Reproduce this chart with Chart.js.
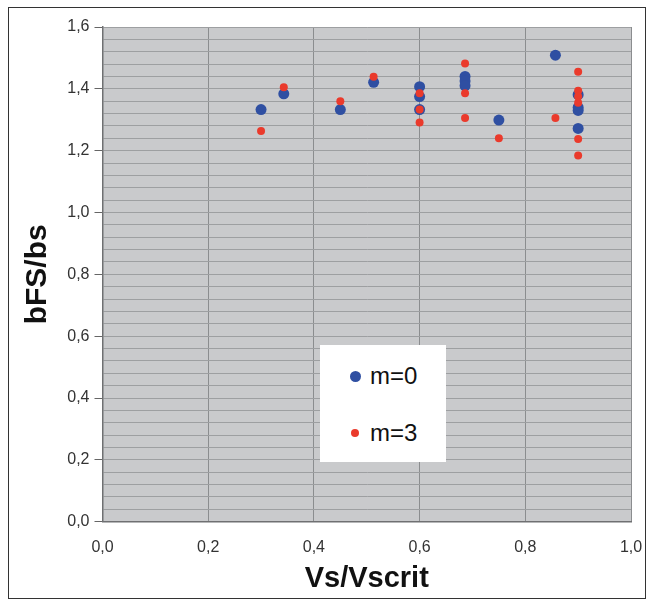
<!DOCTYPE html>
<html>
<head>
<meta charset="utf-8">
<script src="https://cdn.jsdelivr.net/npm/chart.js@4.4.1/dist/chart.umd.min.js"></script>
<style>
  html, body { margin: 0; padding: 0; background: #fff; }
  #wrap { position: relative; width: 653px; height: 606px; }
  #frame { position: absolute; left: 8px; top: 7px; width: 636px; height: 590px; border: 1px solid #333; pointer-events: none; }
  #legend { position: absolute; left: 320px; top: 345px; width: 126px; height: 117px; background: #fff;
            font-family: "Liberation Sans", Arial, sans-serif; font-size: 24px; color: #111; }
  .item { position: absolute; left: 0; height: 30px; line-height: 30px; }
  .dot { position: absolute; border-radius: 50%; }
  .lbl { position: absolute; left: 50px; top: 0; white-space: nowrap; }
</style>
</head>
<body>
<div id="wrap">
  <canvas id="chart" width="653" height="606"></canvas>
  <div id="frame"></div>
  <div id="legend"></div>
</div>
<script>
// valeurs
const seriesNames = ['m=0', 'm=3'];
const seriesColors = ['#2f4fa2', '#ea3a2c'];
const seriesRadius = [5.5, 4];

const xM0 = [0.30, 0.343, 0.45, 0.513, 0.60, 0.60, 0.60, 0.686, 0.686, 0.686, 0.75, 0.857, 0.90, 0.90, 0.90, 0.90];
const yM0 = [1.333, 1.384, 1.333, 1.421, 1.407, 1.375, 1.333, 1.44, 1.425, 1.41, 1.299, 1.509, 1.381, 1.340, 1.330, 1.272];

const xM3 = [0.30, 0.343, 0.45, 0.513, 0.60, 0.60, 0.60, 0.686, 0.686, 0.686, 0.75, 0.857, 0.90, 0.90, 0.90, 0.90, 0.90, 0.90];
const yM3 = [1.264, 1.405, 1.360, 1.439, 1.386, 1.333, 1.291, 1.482, 1.386, 1.306, 1.240, 1.306, 1.455, 1.394, 1.375, 1.355, 1.238, 1.184];

const xTitle = 'Vs/Vscrit';
const yTitle = 'bFS/bs';

function toPoints(xs, ys) {
    return xs.map((x, i) => ({ x: x, y: ys[i] }));
}

function isMajor(v) {
    return Math.abs(v / 0.2 - Math.round(v / 0.2)) < 1e-6;
}

function fmt(v) {
    return v.toFixed(1).replace('.', ',');
}

// fond gris de la zone de tracé
const plotBg = {
    id: 'plotBg',
    beforeDraw(chart) {
        const a = chart.chartArea;
        const ctx = chart.ctx;
        ctx.save();
        ctx.fillStyle = '#c9cacc';
        ctx.fillRect(a.left, a.top, a.right - a.left, a.bottom - a.top);
        ctx.restore();
    }
};

const tickFont = { family: '"Liberation Sans", Arial, sans-serif', size: 16 };

new Chart(document.getElementById('chart'), {
    type: 'scatter',
    data: {
        datasets: [
            {
                label: seriesNames[0],
                data: toPoints(xM0, yM0),
                backgroundColor: seriesColors[0],
                borderWidth: 0,
                pointRadius: seriesRadius[0],
                order: 1
            },
            {
                label: seriesNames[1],
                data: toPoints(xM3, yM3),
                backgroundColor: seriesColors[1],
                borderWidth: 0,
                pointRadius: seriesRadius[1],
                order: 0
            }
        ]
    },
    options: {
        responsive: false,
        animation: false,
        layout: { padding: { top: 27, right: 22, left: 0, bottom: 0 } },
        plugins: {
            legend: { display: false },
            tooltip: { enabled: false }
        },
        scales: {
            x: {
                min: 0,
                max: 1,
                afterFit(scale) {
                    scale.height = 84.3;
                    scale.paddingLeft = 0;
                    scale.paddingRight = 0;
                },
                ticks: {
                    stepSize: 0.2,
                    color: '#333',
                    font: tickFont,
                    padding: 16,
                    callback: v => fmt(v)
                },
                grid: { color: '#8b8d8f', drawTicks: false },
                border: { color: '#6f7072', width: 1.5 },
                title: {
                    display: true,
                    text: xTitle,
                    color: '#111',
                    font: { family: 'Liberation Sans, Arial, sans-serif', size: 29, weight: 'bold' },
                    padding: { top: 0, bottom: 10 }
                }
            },
            y: {
                min: 0,
                max: 1.6,
                afterFit(scale) { scale.width = 102.5; },
                ticks: {
                    stepSize: 0.04,
                    autoSkip: false,
                    color: '#333',
                    font: tickFont,
                    padding: 5,
                    callback: v => isMajor(v) ? fmt(v) : ''
                },
                grid: {
                    color: '#9d9fa1',
                    tickLength: 8,
                    tickColor: c => (c.tick && isMajor(c.tick.value)) ? '#666' : 'rgba(0,0,0,0)'
                },
                border: { color: '#6f7072', width: 1.5 },
                title: {
                    display: true,
                    text: yTitle,
                    color: '#111',
                    font: { family: 'Liberation Sans, Arial, sans-serif', size: 30, weight: 'bold' },
                    padding: { top: 20, bottom: 0 }
                }
            }
        }
    },
    plugins: [plotBg]
});

// légende dans la zone de tracé
const legend = document.getElementById('legend');
const rowsY = [31, 88];
seriesNames.forEach((name, i) => {
    const item = document.createElement('div');
    item.className = 'item';
    item.style.top = (rowsY[i] - 15) + 'px';
    item.style.width = '126px';
    const dot = document.createElement('span');
    dot.className = 'dot';
    const r = seriesRadius[i];
    dot.style.width = (2 * r) + 'px';
    dot.style.height = (2 * r) + 'px';
    dot.style.left = (35 - r) + 'px';
    dot.style.top = (15 - r) + 'px';
    dot.style.background = seriesColors[i];
    const lbl = document.createElement('span');
    lbl.className = 'lbl';
    lbl.textContent = name;
    item.appendChild(dot);
    item.appendChild(lbl);
    legend.appendChild(item);
});
</script>
</body>
</html>
